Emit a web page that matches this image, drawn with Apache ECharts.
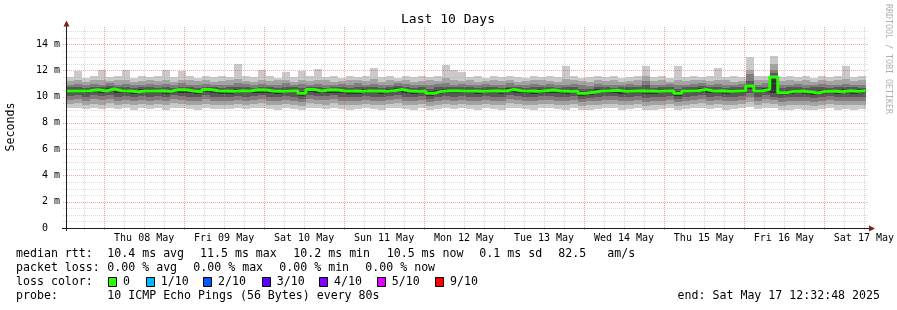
<!DOCTYPE html>
<html>
<head>
<meta charset="utf-8">
<style>
html,body{margin:0;padding:0;background:#fff;}
#c{width:897px;height:310px;}
</style>
<script src="https://cdn.jsdelivr.net/npm/echarts@6.0.0/dist/echarts.min.js"></script>
</head>
<body>
<div id="c"></div>
<script>
// ---- Data (ms), 100 consolidated columns over 10 days ----
const dayLabels = ['Thu 08 May','Fri 09 May','Sat 10 May','Sun 11 May','Mon 12 May','Tue 13 May','Wed 14 May','Thu 15 May','Fri 16 May','Sat 17 May'];
const yTicks = [0,2,4,6,8,10,12,14];
const lossLabels = ['0','1/10','2/10','3/10','4/10','5/10','9/10'];
const lossColors = ['#26ff00','#00b8ff','#0059ff','#5e00ff','#7e00ff','#dd00ff','#ff0000'];

const rttP10 = [11.5,11.95,11.45,11.55,12.0,11.5,11.6,12.0,11.45,11.55, 11.5,11.6,12.0,11.5,11.95,11.55,11.45,11.6,11.5,11.55,
 11.5,12.45,11.6,11.5,12.0,11.55,11.45,11.9,11.5,11.95, 11.55,12.1,11.5,11.6,11.45,11.55,11.5,11.6,12.15,11.5,
 11.55,11.45,11.6,11.5,11.55,11.5,11.6,12.4,12.0,11.9, 11.5,11.55,11.45,11.6,11.5,11.55,11.5,11.45,11.6,11.5,
 11.55,11.5,12.3,11.55,11.45,11.5,11.6,11.5,11.55,11.45, 11.5,11.6,12.35,11.5,11.55,11.45,12.3,11.5,11.6,11.5,
 11.55,12.15,11.5,11.6,11.5,13.0,11.55,11.6,13.1,11.5, 11.55,11.5,11.6,11.45,11.55,11.5,11.6,12.3,11.5,11.55];
const rttP9 = [11.2,11.3,11.15,11.25,11.3,11.2,11.25,11.3,11.15,11.2, 11.25,11.2,11.3,11.15,11.25,11.3,11.2,11.25,11.15,11.2,
 11.25,11.35,11.2,11.15,11.3,11.2,11.25,11.3,11.15,11.25, 11.2,11.3,11.25,11.15,11.2,11.25,11.3,11.2,11.35,11.15,
 11.25,11.2,11.3,11.15,11.2,11.25,11.2,11.4,11.3,11.2, 11.25,11.15,11.2,11.3,11.2,11.25,11.15,11.2,11.3,11.25,
 11.2,11.15,11.35,11.25,11.2,11.15,11.3,11.2,11.25,11.15, 11.2,11.3,11.6,11.2,11.25,11.15,11.3,11.2,11.25,11.3,
 11.2,11.3,11.25,11.15,11.2,12.0,11.25,11.3,12.5,11.2, 11.25,11.2,11.3,11.15,11.25,11.2,11.3,11.35,11.2,11.25];
const rttP8 = [10.9,10.95,10.85,10.95,10.9,11.0,10.9,10.95,10.85,10.9, 10.95,10.9,10.95,10.85,11.0,10.9,10.85,10.95,10.9,10.85,
 10.9,11.0,10.95,10.85,10.95,10.9,10.85,11.0,10.9,10.95, 10.9,10.95,10.85,10.9,10.95,10.85,11.0,10.9,10.95,10.85,
 10.9,11.0,10.95,10.85,10.9,10.85,10.95,11.0,10.9,10.95, 10.9,10.85,10.95,10.9,10.85,11.0,10.9,10.85,10.95,10.9,
 10.95,10.85,10.9,10.95,10.85,10.8,10.95,10.9,10.85,10.9, 10.95,10.9,11.2,10.85,10.9,10.95,10.85,10.9,10.95,11.0,
 10.9,10.95,10.85,10.9,10.95,11.7,10.9,11.0,12.0,10.85, 10.9,10.95,10.85,10.9,10.95,10.85,10.9,10.95,10.9,10.85];
const rttP7 = [10.7,10.75,10.65,10.75,10.7,10.8,10.7,10.7,10.65,10.7, 10.7,10.65,10.75,10.65,10.75,10.7,10.65,10.75,10.7,10.65,
 10.7,10.75,10.7,10.65,10.75,10.7,10.65,10.75,10.7,10.65, 10.75,10.7,10.65,10.7,10.75,10.65,10.7,10.7,10.75,10.65,
 10.7,10.8,10.7,10.65,10.7,10.6,10.7,10.75,10.7,10.7, 10.7,10.65,10.7,10.7,10.65,10.75,10.7,10.65,10.7,10.7,
 10.75,10.65,10.7,10.7,10.6,10.6,10.7,10.7,10.65,10.7, 10.7,10.7,10.9,10.65,10.7,10.7,10.6,10.7,10.7,10.8,
 10.7,10.7,10.65,10.7,10.7,11.2,10.7,10.75,11.8,10.65, 10.7,10.7,10.65,10.7,10.75,10.65,10.7,10.7,10.7,10.65];
const rttP6 = [10.55,10.55,10.55,10.6,10.55,10.65,10.55,10.55,10.5,10.55, 10.55,10.55,10.5,10.6,10.6,10.55,10.5,10.62,10.55,10.55,
 10.5,10.55,10.55,10.6,10.6,10.55,10.5,10.55,10.55,10.4, 10.62,10.55,10.6,10.6,10.55,10.55,10.5,10.55,10.55,10.5,
 10.55,10.62,10.55,10.5,10.55,10.4,10.5,10.55,10.55,10.55, 10.55,10.5,10.55,10.55,10.55,10.62,10.55,10.55,10.5,10.55,
 10.6,10.55,10.5,10.55,10.4,10.45,10.55,10.55,10.58,10.5, 10.55,10.55,10.6,10.5,10.55,10.55,10.4,10.55,10.55,10.62,
 10.55,10.55,10.5,10.55,10.55,10.9,10.55,10.62,11.6,10.45, 10.5,10.55,10.5,10.42,10.5,10.55,10.5,10.55,10.5,10.55];
const rttP5 = [10.25,10.3,10.25,10.35,10.25,10.4,10.25,10.3,10.2,10.25, 10.25,10.3,10.2,10.35,10.3,10.25,10.2,10.35,10.25,10.2,
 10.2,10.25,10.25,10.3,10.3,10.25,10.2,10.25,10.25,10.05, 10.35,10.25,10.3,10.3,10.25,10.2,10.2,10.25,10.25,10.2,
 10.25,10.35,10.25,10.2,10.25,10.05,10.2,10.25,10.25,10.25, 10.25,10.2,10.25,10.25,10.2,10.35,10.25,10.25,10.2,10.25,
 10.3,10.25,10.2,10.25,10.05,10.15,10.25,10.25,10.3,10.2, 10.25,10.25,10.2,10.2,10.25,10.25,10.05,10.25,10.25,10.35,
 10.25,10.25,10.2,10.25,10.25,10.6,10.25,10.35,10.3,10.1, 10.2,10.25,10.2,10.1,10.2,10.25,10.2,10.25,10.2,10.25];
const rttP4 = [10.05,10.1,10.0,10.1,10.05,10.15,10.0,10.05,9.95,10.05, 10.0,10.05,9.95,10.1,10.05,10.0,9.95,10.1,10.0,9.95,
 10.0,10.05,10.0,10.05,10.1,10.0,9.95,10.05,10.0,9.85, 10.1,10.05,10.05,10.1,10.0,9.95,10.0,10.05,10.0,9.95,
 10.05,10.1,10.0,9.95,10.05,9.85,10.0,10.05,10.0,10.05, 10.0,9.95,10.05,10.0,9.95,10.1,10.05,10.0,9.95,10.05,
 10.05,10.0,9.95,10.05,9.85,9.9,10.0,10.05,10.05,9.95, 10.0,10.05,9.9,9.95,10.0,10.05,9.85,10.0,10.05,10.1,
 10.0,10.05,9.95,10.0,10.05,10.3,10.0,10.1,9.95,9.9, 9.95,10.0,9.95,9.9,10.0,10.05,9.95,10.0,9.95,10.0];
const rttP3 = [9.75,9.8,9.7,9.8,9.75,9.85,9.7,9.75,9.65,9.75, 9.7,9.75,9.65,9.8,9.75,9.7,9.65,9.8,9.7,9.7,
 9.7,9.75,9.7,9.75,9.8,9.7,9.65,9.75,9.7,9.6, 9.8,9.75,9.75,9.8,9.7,9.65,9.7,9.75,9.7,9.65,
 9.75,9.8,9.7,9.65,9.75,9.6,9.7,9.75,9.7,9.75, 9.7,9.65,9.75,9.7,9.65,9.8,9.75,9.7,9.65,9.75,
 9.75,9.7,9.65,9.75,9.6,9.65,9.7,9.75,9.75,9.65, 9.7,9.75,9.6,9.65,9.7,9.75,9.6,9.7,9.75,9.8,
 9.7,9.75,9.65,9.7,9.75,9.95,9.7,9.8,9.75,9.6, 9.65,9.7,9.65,9.6,9.7,9.75,9.65,9.7,9.65,9.7];
const rttP2 = [9.45,9.5,9.4,9.45,9.4,9.5,9.4,9.45,9.35,9.45, 9.4,9.45,9.35,9.5,9.45,9.4,9.35,9.45,9.4,9.4,
 9.4,9.45,9.4,9.45,9.5,9.4,9.35,9.45,9.4,9.3, 9.5,9.45,9.4,9.5,9.4,9.35,9.4,9.45,9.4,9.35,
 9.45,9.5,9.4,9.35,9.45,9.3,9.4,9.45,9.4,9.45, 9.4,9.35,9.45,9.4,9.35,9.5,9.45,9.4,9.35,9.45,
 9.45,9.4,9.35,9.45,9.3,9.35,9.4,9.45,9.45,9.35, 9.4,9.45,9.3,9.35,9.4,9.45,9.3,9.4,9.45,9.5,
 9.4,9.45,9.35,9.4,9.45,9.6,9.4,9.5,9.45,9.3, 9.35,9.4,9.35,9.3,9.4,9.45,9.35,9.4,9.35,9.4];
const rttP1 = [9.1,9.15,9.05,9.1,9.05,9.15,9.05,9.1,9.0,9.1, 9.05,9.1,9.0,9.15,9.1,9.05,9.0,9.1,9.05,9.05,
 9.05,9.1,9.05,9.1,9.15,9.05,9.0,9.1,9.05,8.95, 9.15,9.1,9.05,9.15,9.05,9.0,9.05,9.1,9.05,9.0,
 9.1,9.15,9.05,9.0,9.1,8.95,9.05,9.1,9.05,9.1, 9.05,9.0,9.1,9.05,9.0,9.15,9.1,9.05,9.0,9.1,
 9.1,9.05,9.0,9.1,8.95,9.0,9.05,9.1,9.1,9.0, 9.05,9.1,8.95,9.0,9.05,9.1,8.95,9.05,9.1,9.15,
 9.05,9.1,9.0,9.05,9.1,9.2,9.05,9.15,9.1,8.95, 9.0,9.05,9.0,8.95,9.05,9.1,9.0,9.05,9.0,9.05];
const medianRtt = [10.43,10.43,10.45,10.53,10.43,10.58,10.45,10.43,10.38,10.43, 10.43,10.45,10.4,10.53,10.53,10.43,10.38,10.55,10.45,10.43,
 10.4,10.45,10.43,10.53,10.5,10.43,10.4,10.43,10.45,10.25, 10.55,10.43,10.53,10.5,10.43,10.43,10.4,10.45,10.43,10.4,
 10.45,10.55,10.43,10.4,10.43,10.25,10.4,10.45,10.45,10.43, 10.43,10.4,10.43,10.45,10.43,10.55,10.45,10.43,10.4,10.45,
 10.5,10.43,10.4,10.43,10.25,10.33,10.43,10.45,10.48,10.4, 10.43,10.45,10.43,10.4,10.43,10.45,10.25,10.43,10.45,10.55,
 10.43,10.45,10.4,10.43,10.45,10.8,10.43,10.55,11.5,10.3, 10.4,10.43,10.38,10.28,10.4,10.43,10.38,10.45,10.4,10.45];

// ---- time layout ----
const SPAN_H = 240;                        // 10 days shown
const START_H = 12 + 32/60 + 48/3600;      // start clock time (12:32:48)
const COL = SPAN_H / medianRtt.length;     // hours per column
const firstMidnight = 24 - START_H;

const FONT = '"DejaVu Sans Mono", monospace';
const smoke = ['#cacaca','#a4a4a4','#7e7e7e','#585858','#323232'];
const lows = [rttP1, rttP2, rttP3, rttP4, rttP5];
const highs = [rttP10, rttP9, rttP8, rttP7, rttP6];

function bandSeries(k) {
  return {
    type: 'custom', z: 2 + k, silent: true, animation: false,
    data: lows[k].map((v, i) => [i * COL, v, highs[k][i]]),
    encode: { x: 0, y: [1, 2] },
    renderItem(params, api) {
      const t = api.value(0);
      const a = api.coord([t, api.value(2)]);
      const b = api.coord([t + COL, api.value(1)]);
      const x0 = Math.round(a[0]), x1 = Math.round(b[0]);
      const y0 = Math.round(a[1]), y1 = Math.round(b[1]);
      return { type: 'rect', shape: { x: x0, y: y0, width: x1 - x0, height: y1 - y0 }, style: { fill: smoke[k] } };
    }
  };
}

function hLines(values, color, z) {
  return {
    type: 'custom', z, silent: true, animation: false,
    data: values.map(v => [0, v]), encode: { x: 0, y: 1 },
    renderItem(params, api) {
      const cs = params.coordSys;
      const y = Math.round(api.coord([0, api.value(1)])[1]) + 0.5;
      return { type: 'line', shape: { x1: cs.x - 3, y1: y, x2: cs.x + cs.width + 2, y2: y },
               style: { stroke: color, lineWidth: 1, lineDash: [1, 1] } };
    }
  };
}
function vLines(values, color, z) {
  return {
    type: 'custom', z, silent: true, animation: false,
    data: values.map(v => [v, 0]), encode: { x: 0, y: 1 },
    renderItem(params, api) {
      const cs = params.coordSys;
      const x = Math.round(api.coord([api.value(0), 0])[0]) + 0.5;
      return { type: 'line', shape: { x1: x, y1: cs.y, x2: x, y2: cs.y + cs.height + 3 },
               style: { stroke: color, lineWidth: 1, lineDash: [1, 1] } };
    }
  };
}

// grid positions
const hMinor = [], hMajor = [];
for (let k = 1; k <= 30; k++) { const v = k * 0.5; if (v % 2 === 0) hMajor.push(v); else hMinor.push(v); }
const vMinor = [], vMajor = [];
for (let h = firstMidnight - 6; h <= SPAN_H; h += 6) {
  if (h < 0) continue;
  if (Math.abs(((h - firstMidnight) % 24 + 24) % 24) < 1e-6) vMajor.push(h); else vMinor.push(h);
}
const noonPos = dayLabels.map((_, k) => firstMidnight + 12 + 24 * k);

const medData = medianRtt.map((v, i) => [i * COL, v]);
medData.push([SPAN_H, medianRtt[medianRtt.length - 1]]);

const chart = echarts.init(document.getElementById('c'), null, { renderer: 'canvas' });

function txt(text, x, y, opts) {
  opts = opts || {};
  return {
    type: 'text', x, y, rotation: opts.rotation || 0, z: 100, silent: true,
    style: { text, font: (opts.size || 11.6) + 'px ' + FONT, fill: opts.color || '#000',
             align: opts.align || 'left', textAlign: opts.align || 'left',
             verticalAlign: 'middle', textVerticalAlign: 'middle' }
  };
}

const graphics = [];
graphics.push(txt('Last 10 Days', 448, 20, { size: 13, align: 'center' }));
graphics.push(txt('Seconds', 11, 127, { rotation: Math.PI / 2, align: 'center' }));
graphics.push(txt('RRDTOOL / TOBI OETIKER', 888, 4, { rotation: -Math.PI / 2, size: 8.3, color: '#b0b0b0' }));
const r1 = 254.3, r2 = 268.3, r3 = 282.2, r4 = 296.2;
[['median rtt:',16],['10.4 ms avg',107.3],['11.5 ms max',200],['10.2 ms min',293.3],['10.5 ms now',386.7],['0.1 ms sd',479.3],['82.5',558.3],['am/s',607.3]]
  .forEach(([t, x]) => graphics.push(txt(t, x, r1)));
[['packet loss:',16],['0.00 % avg',107.3],['0.00 % max',193.3],['0.00 % min',279.3],['0.00 % now',365.3]]
  .forEach(([t, x]) => graphics.push(txt(t, x, r2)));
graphics.push(txt('loss color:', 16, r3));
const boxX = [108, 145.7, 203, 261.7, 319, 376.7, 435];
lossLabels.forEach((l, k) => {
  graphics.push({ type: 'rect', z: 100, silent: true,
    shape: { x: Math.round(boxX[k]) + 0.5, y: 277.5, width: 8, height: 9 },
    style: { fill: lossColors[k], stroke: '#000', lineWidth: 1 } });
  graphics.push(txt(l, boxX[k] + 15, r3));
});
graphics.push(txt('probe:', 16, r4));
graphics.push(txt('10 ICMP Echo Pings (56 Bytes) every 80s', 107.3, r4));
graphics.push(txt('end: Sat May 17 12:32:48 2025', 880, r4, { align: 'right' }));
graphics.push({ type: 'line', z: 90, silent: true, shape: { x1: 66.5, y1: 231, x2: 66.5, y2: 24 }, style: { stroke: '#1f1f1f', lineWidth: 1 } });
graphics.push({ type: 'line', z: 90, silent: true, shape: { x1: 62, y1: 228.5, x2: 870, y2: 228.5 }, style: { stroke: '#1f1f1f', lineWidth: 1 } });
graphics.push({ type: 'polygon', z: 91, silent: true, shape: { points: [[63.5, 26.5], [69.5, 26.5], [66.5, 20.5]] }, style: { fill: '#801f1f' } });
graphics.push({ type: 'polygon', z: 91, silent: true, shape: { points: [[869, 225.5], [869, 231.5], [875, 228.5]] }, style: { fill: '#801f1f' } });

const series = [];
for (let k = 0; k < 5; k++) series.push(bandSeries(k));
series.push(hLines(hMinor, 'rgba(150,150,150,0.32)', 20));
series.push(vLines(vMinor, 'rgba(150,150,150,0.45)', 20));
series.push(hLines(hMajor, 'rgba(222,79,79,0.5)', 21));
series.push(vLines(vMajor, 'rgba(222,79,79,0.5)', 21));
series.push({
  type: 'line', step: 'end', data: medData, symbol: 'none', z: 30, silent: true, animation: false,
  lineStyle: { color: '#26ff00', width: 3 }
});

chart.setOption({
  animation: false,
  backgroundColor: '#ffffff',
  grid: { left: 66, top: 27, width: 800, height: 201, containLabel: false },
  xAxis: {
    type: 'value', min: 0, max: SPAN_H,
    axisLine: { show: false }, axisTick: { show: false }, splitLine: { show: false },
    axisLabel: {
      customValues: noonPos, margin: 5, fontFamily: FONT, fontSize: 10, color: '#000',
      formatter: v => dayLabels[Math.round((v - noonPos[0]) / 24)] || ''
    }
  },
  yAxis: {
    type: 'value', min: 0, max: 15.3,
    axisLine: { show: false }, axisTick: { show: false }, splitLine: { show: false },
    axisLabel: {
      customValues: yTicks, margin: 6, fontFamily: FONT, fontSize: 10, color: '#000',
      formatter: v => v === 0 ? '0  ' : v + ' m'
    }
  },
  graphic: graphics,
  series
});
</script>
</body>
</html>
